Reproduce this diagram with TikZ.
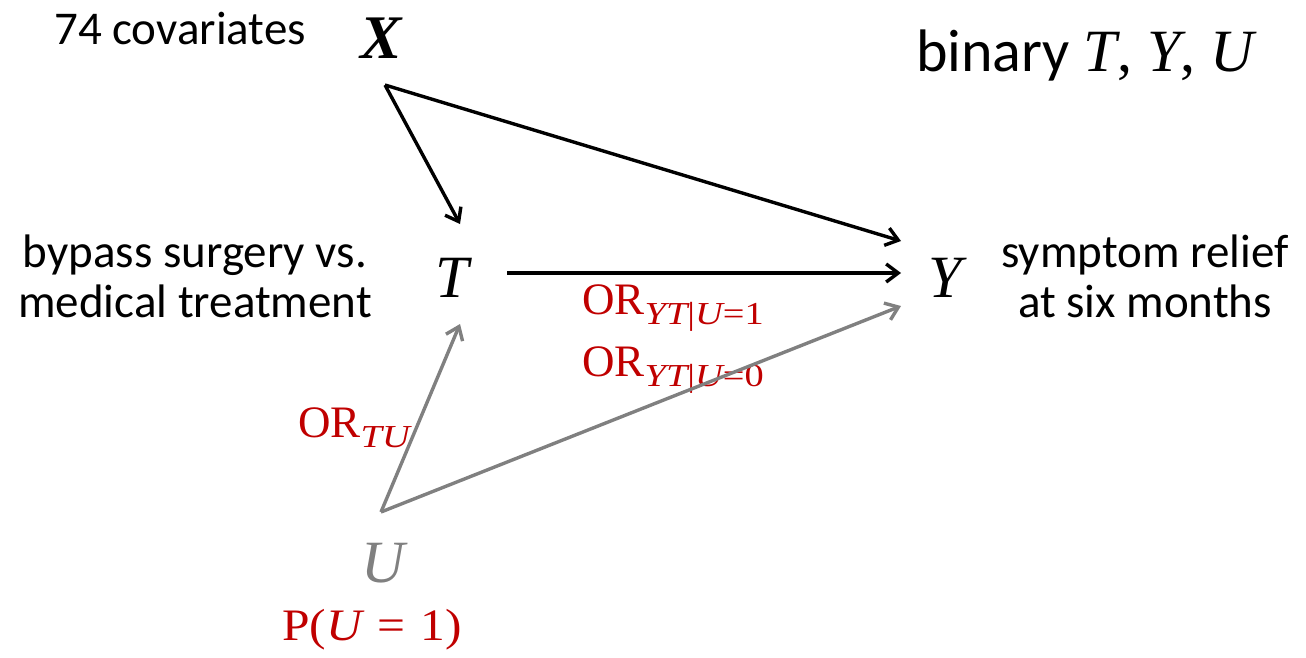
\documentclass[tikz,border=0pt]{standalone}
\usepackage{fontspec}
\setmainfont{Carlito}
\newfontfamily\serif{Liberation Serif}
\usetikzlibrary{arrows.meta}
\definecolor{darkred}{HTML}{C00000}
\definecolor{midgray}{HTML}{808080}
\newcommand\lowsub[1]{\raisebox{-10pt}{\scalebox{1.2}[1]{\fontsize{32}{32}\selectfont\serif #1}}}
\tikzset{
  var/.style={inner sep=0pt, font=\fontsize{60}{62}\selectfont\serif\itshape},
  lbl/.style={inner sep=0pt, align=center, font=\fontsize{47}{50}\selectfont},
  redlbl/.style={inner sep=0pt, text=darkred, font=\fontsize{45}{48}\selectfont\serif},
  edge/.style={line width=3.4pt, -{Straight Barb[length=12pt,width=18pt,line width=3.4pt]}},
  grayedge/.style={edge, draw=midgray},
}
\begin{document}
\begin{tikzpicture}[x=1pt,y=-1pt]
\useasboundingbox (0,0) rectangle (1306,657);
% variable nodes
\node[var, font=\fontsize{62}{64}\selectfont\serif\bfseries\itshape] (X) at (381,38) {X};
\node[var] (T) at (452,278) {T};
\node[var] (Y) at (945,278) {Y};
\node[var, text=midgray] (U) at (383,563) {U};
% descriptive labels
\node[lbl] (cov) at (180,28) {74 covariates};
\node[lbl, font=\fontsize{60}{64}\selectfont] (bin) at (1085,55) {binary {\serif\itshape T\upshape, \itshape Y\upshape, \itshape U}};
\node[lbl] (tdesc) at (195,276) {bypass surgery vs.\\medical treatment};
\node[lbl] (ydesc) at (1145,276) {symptom relief\\at six months};
% red parameter labels
\node[redlbl, anchor=west] (ortu) at (298,428) {OR\lowsub{\itshape TU}};
\node[redlbl, anchor=west] (or1) at (582,308) {OR\lowsub{\itshape YT\upshape|\itshape U\upshape=1}};
\node[redlbl, anchor=west] (or0) at (582,370) {OR\lowsub{\itshape YT\upshape|\itshape U\upshape=0}};
\node[redlbl] (pu) at (372,630) {\scalebox{1.1}[1]{P(\itshape U\upshape\hspace{14pt}=\hspace{14pt}1)}};
% connector ports
\coordinate (Xs) at (385,85);
\coordinate (Tn) at (460,224);
\coordinate (Te) at (507,273);
\coordinate (Ts) at (460,324);
\coordinate (Ynw) at (901,241);
\coordinate (Yw) at (901,273);
\coordinate (Ysw) at (901,306);
\coordinate (Un) at (381,512);
% connectors
\draw[edge] (Xs) -- (Tn);
\draw[edge] (Xs) -- (Ynw);
\draw[edge] (Te) -- (Yw);
\draw[grayedge] (Un) -- (Ts);
\draw[grayedge] (Un) -- (Ysw);
\end{tikzpicture}
\end{document}
